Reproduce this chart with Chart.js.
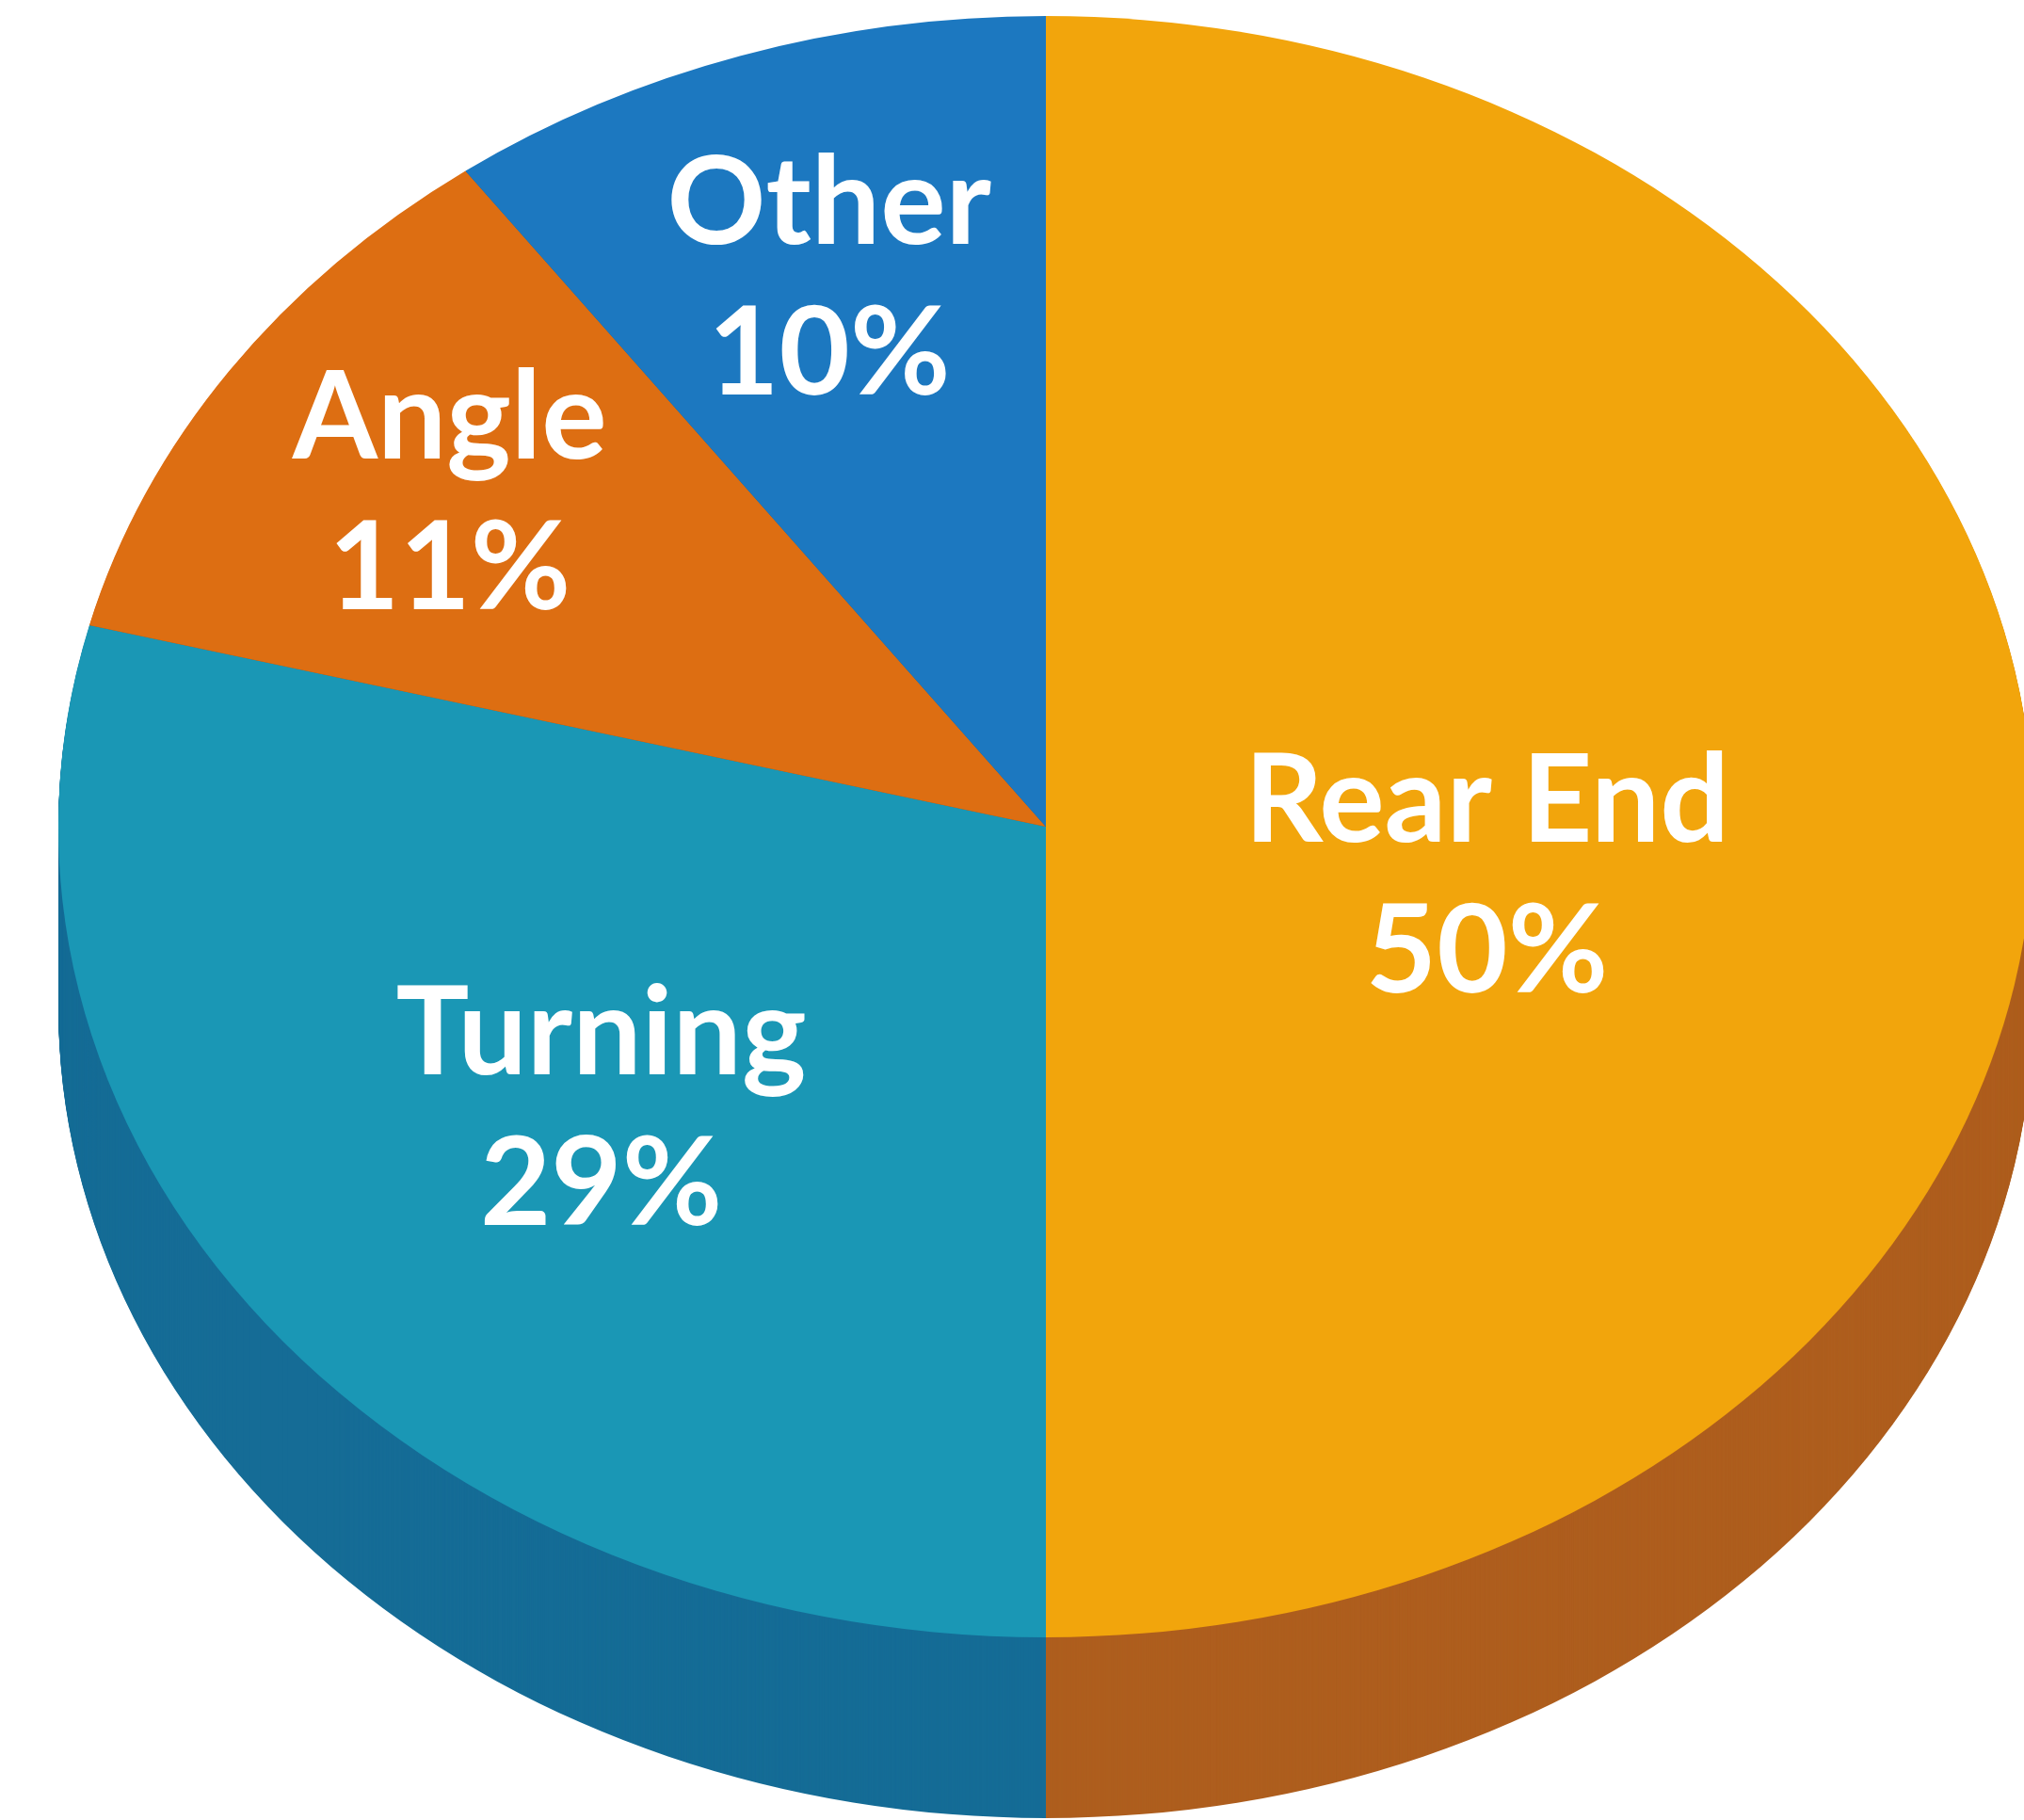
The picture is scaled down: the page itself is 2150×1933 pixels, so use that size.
<!DOCTYPE html>
<html>
<head>
<meta charset="utf-8">
<script src="https://cdn.jsdelivr.net/npm/chart.js@4.4.0/dist/chart.umd.min.js"></script>
<style>
  html, body { margin: 0; padding: 0; background: #fff; overflow: hidden; }
  #wrap { position: absolute; left: 0; top: 0; width: 2150px; height: 1933px; }
</style>
</head>
<body>
<div id="wrap"><canvas id="pie"></canvas></div>
<script>
const categories = ['Rear End', 'Turning', 'Angle', 'Other']
const shares = [50, 29, 11, 10]
const topColors = ['#F2A50C', '#1A97B5', '#DD6E12', '#1C78C0']
const sideColors = ['#AE5E1E', '#156C96', '#A8500E', '#135A94']

// where the tilted pie sits on the page
const tilt = { cx: 1111, cy: 878, rx: 1049, ry: 861, depth: 192 }
// label placement: fraction of radius, and a small turn off the mid angle (degrees)
const labelRadius = [0.451, 0.57, 0.73, 0.71]
const labelTurn = [8, 0, 0, 0]

function applyTilt(ctx, arc, dy) {
    const r = arc.outerRadius
    ctx.translate(tilt.cx, tilt.cy + dy)
    ctx.scale(tilt.rx / r, tilt.ry / r)
    ctx.translate(-arc.x, -arc.y)
}

const tiltPlugin = {
    id: 'tilt3d',
    beforeDatasetsDraw(chart) {
        const ctx = chart.ctx
        const arcs = chart.getDatasetMeta(0).data
        // side walls: stacked dark copies pushed downwards
        for (let d = tilt.depth; d > 0; d -= 1) {
            ctx.save()
            applyTilt(ctx, arcs[0], d)
            arcs.forEach((arc, i) => {
                ctx.beginPath()
                ctx.moveTo(arc.x, arc.y)
                ctx.arc(arc.x, arc.y, arc.outerRadius, arc.startAngle, arc.endAngle)
                ctx.closePath()
                ctx.fillStyle = sideColors[i]
                ctx.fill()
            })
            ctx.restore()
        }
        ctx.save()
        applyTilt(ctx, arcs[0], 0)
    },
    afterDatasetsDraw(chart) {
        const ctx = chart.ctx
        ctx.restore()
        const arcs = chart.getDatasetMeta(0).data
        ctx.save()
        ctx.fillStyle = '#ffffff'
        ctx.font = 'bold 130px Lato'
        ctx.textAlign = 'center'
        ctx.textBaseline = 'middle'
        arcs.forEach((arc, i) => {
            const mid = (arc.startAngle + arc.endAngle) / 2 + labelTurn[i] * Math.PI / 180
            const x = tilt.cx + Math.cos(mid) * tilt.rx * labelRadius[i]
            const y = tilt.cy + Math.sin(mid) * tilt.ry * labelRadius[i]
            ctx.fillText(categories[i], x, y - 80)
            ctx.fillText(shares[i] + '%', x, y + 80)
        })
        ctx.restore()
    }
}

new Chart(document.getElementById('pie'), {
    type: 'pie',
    data: {
        labels: categories,
        datasets: [{
            data: shares,
            backgroundColor: topColors,
            borderWidth: 0,
            clip: false
        }]
    },
    options: {
        responsive: true,
        maintainAspectRatio: false,
        animation: false,
        layout: { padding: 0 },
        plugins: {
            legend: { display: false },
            tooltip: { enabled: false }
        }
    },
    plugins: [tiltPlugin]
})
</script>
</body>
</html>
